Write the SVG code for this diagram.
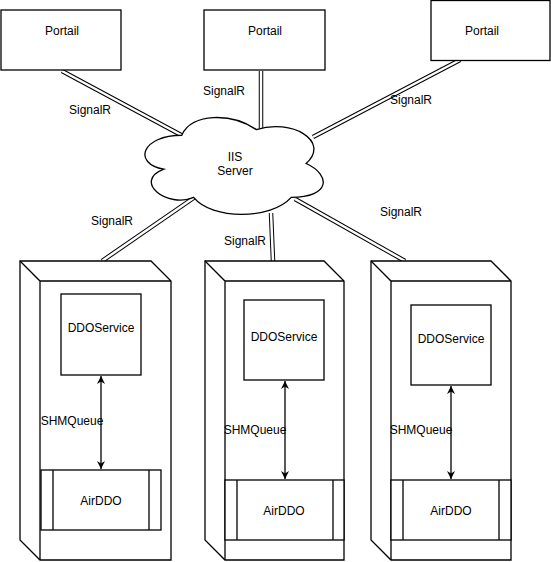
<svg xmlns="http://www.w3.org/2000/svg" width="551" height="562" viewBox="0 0 551 562">
<defs>
<marker id="arr" viewBox="0 0 10 10" refX="10" refY="5" markerWidth="8" markerHeight="8" markerUnits="userSpaceOnUse" orient="auto-start-reverse">
<path d="M0,0 L10,5 L0,10 L3,5 Z" fill="#000"/>
</marker>
<style>
.box{fill:#fff;stroke:#000;stroke-width:1.3}
.cube{fill:#fff;stroke:#000;stroke-width:1.3;stroke-linejoin:miter}
.in{fill:none;stroke:#000;stroke-width:1.3}
.t{font-family:"Liberation Sans",Arial,sans-serif;font-size:12px;fill:#000;text-anchor:middle}
.lo{fill:none;stroke:#000;stroke-width:4.5}
.li{fill:none;stroke:#fff;stroke-width:2.5}
.arrow{fill:none;stroke:#000;stroke-width:1.3}
</style>
</defs>
<rect width="551" height="562" fill="#fff"/>

<g id="connectors">
<g id="link-portail1"><line class="lo" x1="62" y1="71" x2="183" y2="136"/><line class="li" x1="62" y1="71" x2="183" y2="136"/></g>
<g id="link-portail2"><line class="lo" x1="261" y1="71" x2="261" y2="132"/><line class="li" x1="261" y1="71" x2="261" y2="132"/></g>
<g id="link-portail3"><line class="lo" x1="460" y1="60" x2="313" y2="137"/><line class="li" x1="460" y1="60" x2="313" y2="137"/></g>
<g id="link-server1"><line class="lo" x1="195" y1="197" x2="102" y2="261"/><line class="li" x1="195" y1="197" x2="102" y2="261"/></g>
<g id="link-server2"><line class="lo" x1="271" y1="213" x2="273" y2="261"/><line class="li" x1="271" y1="213" x2="273" y2="261"/></g>
<g id="link-server3"><line class="lo" x1="295" y1="199" x2="405" y2="261"/><line class="li" x1="295" y1="199" x2="405" y2="261"/></g>
<text class="t" x="90" y="114">SignalR</text>
<text class="t" x="224" y="95">SignalR</text>
<text class="t" x="411" y="104">SignalR</text>
<text class="t" x="112" y="225">SignalR</text>
<text class="t" x="245" y="245">SignalR</text>
<text class="t" x="401" y="216">SignalR</text>
</g>

<g id="portail1"><rect class="box" x="1" y="10" width="120" height="60"/><text class="t" x="62" y="35">Portail</text></g>
<g id="portail2"><rect class="box" x="204" y="10" width="121" height="60"/><text class="t" x="265" y="35">Portail</text></g>
<g id="portail3"><rect class="box" x="431" y="0.5" width="119" height="60"/><text class="t" x="482" y="35">Portail</text></g>

<g id="iis-server">
<path class="box" transform="translate(132,107) scale(199,113)" vector-effect="non-scaling-stroke" d="M0.25,0.25 C0.05,0.25 0,0.5 0.16,0.55 C0,0.66 0.18,0.9 0.31,0.8 C0.4,1 0.7,1 0.8,0.8 C1,0.8 1,0.6 0.875,0.5 C1,0.3 0.8,0.1 0.625,0.2 C0.5,0.05 0.3,0.05 0.25,0.25 Z"/>
<text class="t" x="235" y="161">IIS</text>
<text class="t" x="235" y="175">Server</text>
</g>

<g id="server1">
<path class="cube" d="M20,261 L151,261 L171,281 L171,560 L40,560 L20,540 Z"/>
<path class="in" d="M20,261 L40,281 L171,281 M40,281 L40,560"/>
</g>
<g id="ddoservice1"><rect class="box" x="61" y="294" width="80" height="81"/><text class="t" x="101" y="332">DDOService</text></g>
<g id="airddo1"><rect class="box" x="41" y="470" width="120" height="60"/><path class="in" d="M53,470 V530 M149,470 V530"/><text class="t" x="101" y="505">AirDDO</text></g>

<g id="server2">
<path class="cube" d="M205,261 L324,261 L344,281 L344,560 L225,560 L205,540 Z"/>
<path class="in" d="M205,261 L225,281 L344,281 M225,281 L225,560"/>
</g>
<g id="ddoservice2"><rect class="box" x="244" y="300" width="80" height="80"/><text class="t" x="284" y="341">DDOService</text></g>
<g id="airddo2"><rect class="box" x="225" y="480" width="119" height="60"/><path class="in" d="M237,480 V540 M333,480 V540"/><text class="t" x="284" y="515">AirDDO</text></g>

<g id="server3">
<path class="cube" d="M371,261 L491,261 L511,281 L511,560 L391,560 L371,540 Z"/>
<path class="in" d="M371,261 L391,281 L511,281 M391,281 L391,560"/>
</g>
<g id="ddoservice3"><rect class="box" x="411" y="305" width="80" height="80"/><text class="t" x="451" y="343">DDOService</text></g>
<g id="airddo3"><rect class="box" x="391" y="480" width="120" height="60"/><path class="in" d="M403,480 V540 M499,480 V540"/><text class="t" x="451" y="515">AirDDO</text></g>

<g id="queues">
<line class="arrow" x1="101" y1="376" x2="101" y2="469" marker-start="url(#arr)" marker-end="url(#arr)"/>
<text class="t" x="72" y="425">SHMQueue</text>
<line class="arrow" x1="285" y1="381" x2="285" y2="479" marker-start="url(#arr)" marker-end="url(#arr)"/>
<text class="t" x="255" y="434">SHMQueue</text>
<line class="arrow" x1="451" y1="386" x2="451" y2="479" marker-start="url(#arr)" marker-end="url(#arr)"/>
<text class="t" x="421" y="434">SHMQueue</text>
</g>
</svg>
